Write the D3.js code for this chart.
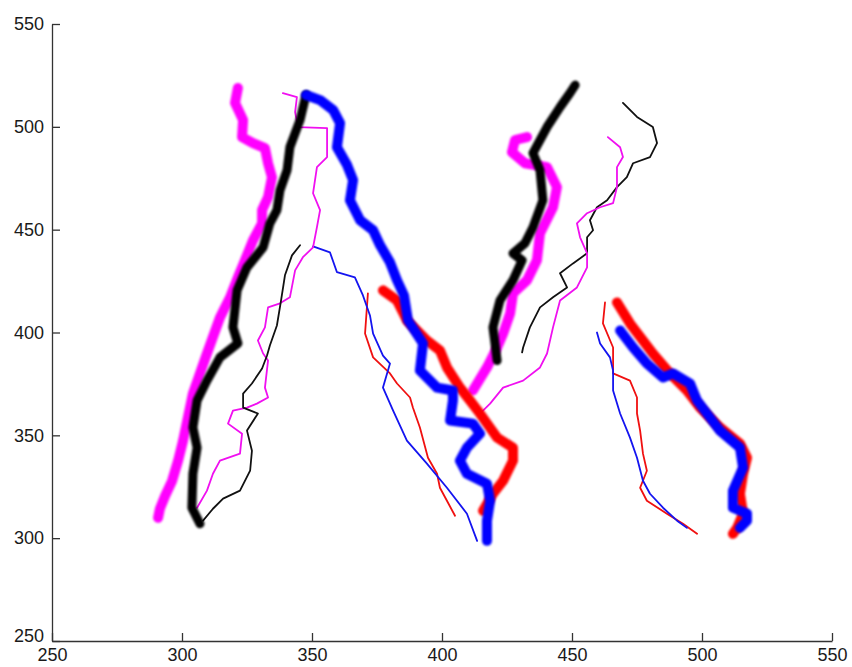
<!DOCTYPE html>
<html>
<head>
<meta charset="utf-8">
<script src="https://cdn.jsdelivr.net/npm/d3@7"></script>
<style>
  body { margin: 0; background: #fff; }
  .axis path, .axis line { stroke: #333; stroke-width: 1.3; }
</style>
</head>
<body>
<svg id="chart"></svg>
<script>
// tick values for both axes
var xTicks = [250, 300, 350, 400, 450, 500, 550];
var yTicks = [250, 300, 350, 400, 450, 500, 550];

// pen trajectories, [x, y] in axis units
var thickMagentaLeft = [[321.5,518.9],[320.4,511.6],[323.5,503.3],[323.1,495.0],[327.3,492.1],[331.9,489.7],[333.1,482.3],[334.6,475.5],[333.1,465.8],[330.8,459.5],[330.8,453.1],[327.3,444.8],[324.2,435.1],[321.5,426.8],[318.5,417.1],[314.6,407.3],[309.6,389.8],[304.2,370.3],[300.4,347.4],[298.5,337.7],[296.2,327.9],[293.5,320.6],[291.5,314.3],[290.8,309.9]];
var thickBlackLeft = [[347.7,515.5],[345.4,503.3],[341.5,490.1],[340.4,478.9],[337.7,469.2],[336.5,459.5],[333.8,453.1],[331.2,441.4],[325.0,431.7],[321.2,420.5],[319.6,402.5],[321.5,394.7],[314.6,387.9],[309.6,376.6],[305.8,366.9],[304.2,353.8],[305.8,344.0],[304.2,331.3],[303.8,314.8],[306.9,307.0]];
var thinBlackLeft = [[345.4,442.4],[342.3,437.5],[339.6,427.8],[338.1,415.6],[336.5,403.4],[333.8,393.7],[332.7,388.8],[330.8,382.5],[326.9,375.2],[323.5,370.3],[323.5,363.5],[329.2,360.6],[325.0,352.3],[326.9,342.5],[326.2,332.8],[322.3,323.1],[315.8,319.2],[311.9,314.3],[308.1,308.5]];
var thinMagentaLeft = [[338.8,516.4],[344.2,514.5],[343.5,507.2],[344.6,499.9],[355.8,499.4],[355.8,485.3],[351.9,480.4],[350.4,467.7],[353.1,459.5],[351.9,451.2],[350.4,441.4],[346.5,436.6],[343.5,430.2],[341.5,417.1],[337.7,414.2],[333.1,412.2],[331.9,402.5],[329.2,396.1],[331.2,389.8],[333.1,386.4],[331.9,373.2],[333.1,368.4],[328.8,365.4],[325.0,363.5],[319.6,362.0],[317.7,355.7],[323.1,350.8],[322.3,341.1],[314.6,337.7],[311.9,331.3],[309.6,323.1],[305.8,314.8]];
var thickBlueMid = [[347.7,515.5],[353.1,513.0],[358.1,508.2],[360.8,501.8],[359.6,490.1],[363.5,481.4],[365.8,474.1],[364.6,464.3],[368.5,454.6],[373.5,449.7],[376.2,442.4],[380.0,434.1],[382.7,425.4],[385.4,418.0],[386.9,405.9],[392.7,394.7],[391.5,381.5],[398.1,373.2],[404.2,371.8],[404.2,366.9],[403.1,357.2],[411.9,355.7],[414.6,350.8],[409.6,344.0],[406.9,337.7],[409.6,331.3],[417.3,326.5],[418.5,318.2],[417.3,308.5],[417.3,298.7]];
var thickRedMid = [[377.3,420.5],[382.7,415.6],[386.5,405.9],[394.2,396.1],[399.2,391.3],[401.9,383.0],[406.9,373.2],[410.8,366.9],[414.6,360.6],[421.2,348.9],[427.3,344.0],[427.3,337.7],[423.5,327.9],[419.6,321.6],[415.8,313.3]];
var thinRedMid = [[371.5,419.0],[370.4,399.5],[373.5,387.9],[380.0,380.1],[382.7,375.2],[387.7,368.4],[388.8,363.5],[391.5,353.8],[394.6,339.1],[398.1,331.3],[399.2,324.5],[401.9,318.2],[405.0,310.9]];
var thinBlueMid = [[350.4,441.9],[356.9,439.0],[359.6,429.3],[366.5,426.8],[369.6,418.0],[372.3,408.3],[373.5,399.5],[377.3,388.8],[380.0,384.9],[377.3,373.2],[381.2,362.0],[386.5,347.4],[394.2,336.2],[401.9,324.5],[409.6,311.9],[413.5,298.7]];
var thickBlackRight = [[451.2,520.3],[449.2,516.4],[445.4,509.6],[440.4,499.9],[435.0,487.2],[437.7,478.9],[438.8,464.3],[435.0,451.2],[431.9,443.4],[427.3,438.5],[430.8,435.1],[427.3,425.4],[422.3,415.6],[419.6,402.5],[421.2,386.4]];
var thickMagentaRight = [[432.7,495.0],[428.1,493.6],[426.9,487.7],[431.9,482.3],[440.4,480.4],[444.2,470.7],[442.7,460.9],[437.7,448.3],[436.5,435.1],[432.7,425.4],[427.3,419.0],[426.2,409.3],[423.5,399.5],[421.2,392.7],[417.3,383.0],[411.9,371.8]];
var thinBlackRight = [[469.6,511.6],[475.0,504.8],[481.1,499.9],[482.7,492.1],[480.0,485.3],[473.5,482.3],[471.1,475.5],[467.3,470.7],[463.5,464.3],[459.6,460.9],[456.9,454.6],[458.1,449.7],[455.8,446.3],[455.8,438.5],[450.4,433.6],[445.4,428.8],[448.1,421.9],[442.7,417.1],[437.7,412.2],[433.8,402.5],[431.2,392.7],[430.8,390.3]];
var thinMagentaRight = [[463.8,495.0],[468.5,490.1],[469.6,485.3],[467.3,480.4],[467.3,470.7],[465.8,462.9],[460.8,460.9],[455.8,458.0],[451.9,453.1],[453.1,446.3],[455.8,438.5],[455.8,431.7],[451.9,421.9],[445.4,415.6],[442.7,402.5],[440.4,389.8],[437.7,383.0],[431.2,376.6],[423.5,373.2],[418.5,365.4],[414.6,360.6]];
var thickRedRight = [[467.3,414.6],[472.3,404.4],[481.1,389.8],[487.7,380.1],[494.2,371.8],[499.2,363.5],[506.9,353.8],[514.6,346.0],[517.3,339.1],[515.8,331.3],[514.6,321.6],[515.8,311.9],[513.5,305.0],[511.9,302.1]];
var thickBlueRight = [[468.5,401.0],[473.5,392.7],[478.8,384.9],[485.0,378.1],[488.8,380.1],[495.4,375.2],[498.1,366.9],[501.9,360.6],[506.9,352.3],[514.6,344.0],[515.8,334.3],[511.9,323.1],[511.9,314.8],[517.3,311.9],[517.3,308.5],[514.6,305.0]];
var thinRedRight = [[462.7,414.6],[461.9,404.4],[465.8,392.7],[465.8,380.1],[472.3,376.6],[475.0,368.4],[475.0,360.6],[476.2,352.3],[477.3,341.1],[478.8,332.8],[476.2,324.5],[478.8,318.2],[486.5,311.9],[492.7,307.0],[498.1,302.1]];
var thinBlueRight = [[459.6,400.0],[460.8,394.7],[464.6,387.9],[465.8,381.5],[465.8,371.8],[468.5,360.6],[472.3,348.9],[475.0,339.1],[477.3,327.9],[480.0,321.6],[485.0,314.8],[490.4,308.5],[494.2,305.0]];

var width = 852, height = 667;

var svg = d3.select("#chart").attr("width", width).attr("height", height);

var x = d3.scaleLinear().domain([250, 550]).range([52, 832]);
var y = d3.scaleLinear().domain([250, 550]).range([641, 24]);

// soft edge for the heavy marker strokes
svg.append("defs").append("filter")
    .attr("id", "soft")
    .append("feGaussianBlur")
    .attr("stdDeviation", 1.1);

var line = d3.line()
    .x(function(d) { return x(d[0]); })
    .y(function(d) { return y(d[1]); });

// drawing order: thin pens first, then heavy ones
var strokes = [
    { pts: thinRedMid, color: "#f01010", w: 1.8 },
    { pts: thinBlueMid, color: "#1414f0", w: 1.8 },
    { pts: thinMagentaLeft, color: "#f010f0", w: 1.8 },
    { pts: thinBlackLeft, color: "#111", w: 1.8 },
    { pts: thinBlackRight, color: "#111", w: 1.8 },
    { pts: thinMagentaRight, color: "#f010f0", w: 1.8 },
    { pts: thinRedRight, color: "#f01010", w: 1.8 },
    { pts: thinBlueRight, color: "#1414f0", w: 1.8 },
    { pts: thickMagentaLeft, color: "#ff00ff", w: 10, soft: true },
    { pts: thickMagentaRight, color: "#ff00ff", w: 10, soft: true },
    { pts: thickRedMid, color: "#ff0000", w: 10, soft: true },
    { pts: thickRedRight, color: "#ff0000", w: 10, soft: true },
    { pts: thickBlackLeft, color: "#000", w: 9, soft: true },
    { pts: thickBlackRight, color: "#000", w: 9, soft: true },
    { pts: thickBlueMid, color: "#0000ff", w: 10, soft: true },
    { pts: thickBlueRight, color: "#0000ff", w: 10, soft: true }
];

svg.append("g").attr("class", "strokes")
    .selectAll("path")
    .data(strokes)
    .enter().append("path")
    .attr("d", function(d) { return line(d.pts); })
    .attr("fill", "none")
    .attr("stroke", function(d) { return d.color; })
    .attr("stroke-width", function(d) { return d.w; })
    .attr("stroke-linejoin", "round")
    .attr("stroke-linecap", "round")
    .attr("filter", function(d) { return d.soft ? "url(#soft)" : null; });

// axes, ticks pointing inward like the original
var xAxis = svg.append("g")
    .attr("class", "axis")
    .attr("transform", "translate(0," + y(250) + ")")
    .call(d3.axisBottom(x).tickValues(xTicks).tickFormat(d3.format("d")).tickSizeInner(-8).tickSizeOuter(0).tickPadding(7));

var yAxis = svg.append("g")
    .attr("class", "axis")
    .attr("transform", "translate(" + x(250) + ",0)")
    .call(d3.axisLeft(y).tickValues(yTicks).tickFormat(d3.format("d")).tickSizeInner(-8).tickSizeOuter(0).tickPadding(8));

[xAxis, yAxis].forEach(function(g) {
    g.attr("font-size", 18).attr("font-family", "Liberation Sans, Arial, sans-serif");
    g.selectAll("text").attr("fill", "#1a1a1a");
});

// the bottom y label sits a little above the corner, clear of the x labels
yAxis.selectAll(".tick text")
    .filter(function(d) { return d === 250; })
    .attr("dy", "0.05em");
</script>
</body>
</html>
